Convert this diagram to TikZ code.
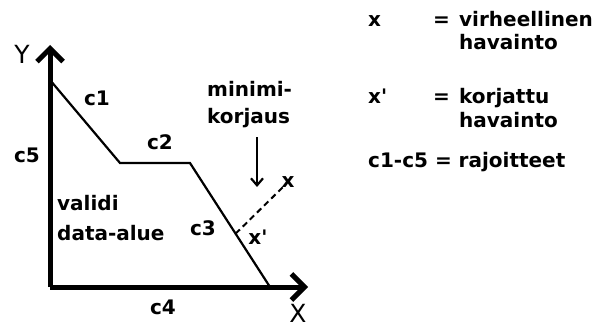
\documentclass[tikz,border=0pt]{standalone}
\usepackage{fontspec}
\setmainfont{DejaVu Sans}
\usetikzlibrary{arrows.meta, calc}

\begin{document}
\begin{tikzpicture}[
          x=1pt, y=-1pt,
          axis/.style={line width=5pt, -{Straight Barb[length=13pt, width=26pt]}},
          edge/.style={line width=2.2pt, line join=miter},
          lbl/.style={font=\fontsize{20}{23}\selectfont\bfseries, inner sep=0pt},
          axlbl/.style={font=\fontsize{25}{28}\selectfont, inner sep=0pt},
          leg/.style={lbl, anchor=base west},
          arr/.style={-{Straight Barb[length=7pt, width=12pt]}, line width=2.2pt}
        ]
        \useasboundingbox (0,0) rectangle (602,329);
        % axes
        \coordinate (O) at (50,287);
        \coordinate (ytip) at (50,45);
        \coordinate (xtip) at (308,287);
        \draw[axis] (O) -- (ytip);
        \draw[axis] (O) -- (xtip);
        \node[axlbl] (ylab) at (22,54) {Y};
        \node[axlbl] (xlab) at (298,313) {X};
        % constraint boundary
        \coordinate (p1) at (50,80);
        \coordinate (p2) at (120,163);
        \coordinate (p3) at (190,163);
        \coordinate (p4) at (270,287);
        \draw[edge] (p1) -- (p2) -- (p3) -- (p4);
        \node[lbl] (c1) at (97,98) {c1};
        \node[lbl] (c2) at (160,142) {c2};
        \node[lbl] (c3) at (203,228) {c3};
        \node[lbl] (c4) at (163,307) {c4};
        \node[lbl] (c5) at (27,155) {c5};
        \node[lbl, anchor=base west] (valid1) at (57,210) {validi};
        \node[lbl, anchor=base west] (valid2) at (57,240) {data-alue};
        % correction
        \coordinate (xp) at ($(p3)!0.57!(p4)$);
        \coordinate (xe) at (283,187);
        \draw[line width=2pt, dash pattern=on 6pt off 4pt] (xp) -- (xe);
        \node[lbl] (xlbl) at (288,182) {x};
        \node[lbl] (xplbl) at (258,237) {x\textquotesingle};
        \node[lbl, anchor=base west] (min1) at (207,96) {minimi-};
        \node[lbl, anchor=base west] (min2) at (207,123) {korjaus};
        \coordinate (ar1) at (257,137);
        \coordinate (ar2) at (257,187);
        \draw[arr] (ar1) -- (ar2);
        % legend
        \node[leg] (l1a) at (368,27) {x};
        \node[leg] (l1b) at (433,27) {=};
        \node[leg] (l1c) at (459,27) {virheellinen};
        \node[leg] (l1d) at (459,50) {havainto};
        \node[leg] (l2a) at (368,103) {x\textquotesingle};
        \node[leg] (l2b) at (433,103) {=};
        \node[leg] (l2c) at (459,103) {korjattu};
        \node[leg] (l2d) at (459,127) {havainto};
        \node[leg] (l3a) at (368,167) {c1-c5 = rajoitteet};
      \end{tikzpicture}
\end{document}
